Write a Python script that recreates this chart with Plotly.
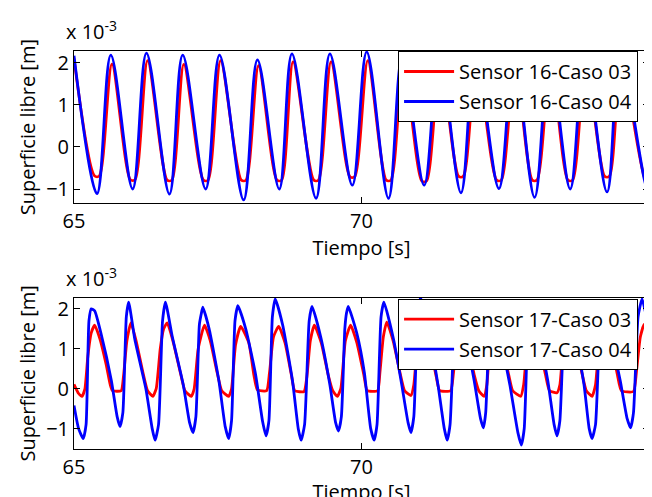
import plotly.graph_objects as go
from plotly.subplots import make_subplots

# ---------------- data (values in units of 1e-3 m) ----------------
# Top panel: Sensor 16
t16_c04 = [65.00, 65.40, 65.64, 66.02, 66.26, 66.66, 66.89, 67.29, 67.53, 67.95, 68.19, 68.57,
           68.79, 69.21, 69.45, 69.84, 70.09, 70.47, 70.71, 71.09, 71.35, 71.73, 71.98, 72.39,
           72.65, 73.01, 73.27, 73.63, 73.88, 74.27, 74.50, 74.97, 75.00]
v16_c04 = [2.17, -1.11, 2.18, -1.00, 2.23, -1.12, 2.18, -1.00, 2.18, -1.26, 2.07, -1.00,
           2.21, -1.22, 2.21, -0.91, 2.26, -1.22, 2.15, -0.91, 2.24, -1.09, 2.23, -0.99,
           2.17, -1.20, 2.13, -1.00, 2.17, -1.07, 2.21, -0.99, -0.98]

t16_c03 = [65.00, 65.36, 65.44, 65.66, 65.98, 66.06, 66.28, 66.62, 66.70, 66.91, 67.25, 67.33,
           67.55, 67.91, 67.99, 68.21, 68.53, 68.61, 68.81, 69.17, 69.25, 69.47, 69.80, 69.88,
           70.11, 70.43, 70.51, 70.73, 71.05, 71.13, 71.37, 71.69, 71.77, 72.00, 72.35, 72.43,
           72.67, 72.97, 73.05, 73.29, 73.59, 73.67, 73.90, 74.23, 74.31, 74.52, 74.94, 75.00]
v16_c03 = [2.10, -0.69, -0.69, 1.97, -0.78, -0.78, 2.05, -0.79, -0.79, 1.96, -0.79, -0.79,
           2.05, -0.79, -0.79, 1.93, -0.79, -0.79, 2.02, -0.79, -0.79, 2.02, -0.71, -0.71,
           2.05, -0.79, -0.79, 2.00, -0.81, -0.81, 2.02, -0.70, -0.70, 2.02, -0.79, -0.79,
           2.00, -0.79, -0.79, 2.00, -0.79, -0.79, 2.00, -0.70, -0.70, 2.02, -0.79, -0.79]

# Bottom panel: Sensor 17
t17_c04 = [65.00, 65.08, 65.16, 65.21, 65.26, 65.30, 65.36, 65.47, 65.65, 65.75, 65.80,
           65.85, 65.91, 65.95, 66.06, 66.25, 66.36, 66.41,
           66.47, 66.54, 66.59, 66.71, 66.90, 67.01, 67.07,
           67.12, 67.18, 67.21, 67.24, 67.35, 67.52, 67.63, 67.69,
           67.74, 67.80, 67.85, 67.99, 68.16, 68.28, 68.34,
           68.39, 68.45, 68.50, 68.63, 68.80, 68.90, 68.95,
           69.01, 69.09, 69.14, 69.29, 69.45, 69.55, 69.60,
           69.65, 69.71, 69.74, 69.77, 69.92, 70.05, 70.16, 70.22,
           70.27, 70.34, 70.39, 70.56, 70.70, 70.81, 70.86,
           70.91, 70.98, 71.03, 71.17, 71.33, 71.44, 71.49,
           71.54, 71.62, 71.67, 71.80, 71.96, 72.07, 72.12,
           72.16, 72.23, 72.27, 72.40, 72.58, 72.72, 72.78,
           72.83, 72.90, 72.95, 73.08, 73.24, 73.35, 73.40,
           73.45, 73.53, 73.58, 73.71, 73.87, 73.96, 74.01,
           74.07, 74.15, 74.20, 74.33, 74.50, 74.62, 74.68,
           74.73, 74.81, 74.88, 74.95, 75.00]
v17_c04 = [-0.42, -1.00, -1.25, -0.90, 1.70, 2.00, 1.95, 1.38, 0.20, -0.70, -0.95,
           -0.60, 1.80, 2.17, 1.22, 0.00, -1.00, -1.29,
           -0.90, 1.70, 2.17, 1.30, 0.10, -0.85, -1.10,
           -0.70, 1.60, 1.85, 2.04, 1.50, 0.20, -0.95, -1.25,
           -0.80, 1.70, 2.08, 1.48, 0.34, -0.82, -1.18,
           -0.80, 1.80, 2.25, 1.59, 0.20, -1.00, -1.29,
           -0.90, 1.70, 2.06, 1.30, 0.10, -0.85, -1.06,
           -0.70, 1.50, 1.90, 2.06, 1.38, 0.40, -1.00, -1.29,
           -0.90, 1.80, 2.17, 1.22, 0.10, -0.85, -1.10,
           -0.70, 1.90, 2.29, 1.40, 0.10, -1.00, -1.29,
           -0.90, 1.70, 2.10, 1.35, 0.20, -0.75, -0.98,
           -0.60, 1.80, 2.17, 1.40, 0.10, -1.10, -1.41,
           -1.00, 1.70, 2.10, 1.35, 0.20, -0.90, -1.18,
           -0.80, 1.80, 2.17, 1.40, 0.10, -1.00, -1.25,
           -0.90, 1.70, 2.10, 1.35, 0.20, -0.75, -0.98,
           -0.60, 1.80, 2.25, 1.85, 1.65]

t17_c03 = [65.00, 65.08, 65.14, 65.19, 65.24, 65.30, 65.36, 65.45, 65.56, 65.63, 65.67, 65.82,
           65.86, 65.92, 65.99, 66.08, 66.20, 66.28, 66.37, 66.43, 66.50, 66.56, 66.62, 66.72,
           66.85, 66.93, 67.04, 67.09, 67.16, 67.27, 67.37, 67.49, 67.57, 67.69, 67.74, 67.81,
           67.90, 68.04, 68.13, 68.19, 68.35, 68.40, 68.47, 68.56, 68.67, 68.78, 68.84, 69.00,
           69.05, 69.11, 69.18, 69.30, 69.42, 69.50, 69.58, 69.64, 69.72, 69.81, 69.92, 70.04,
           70.10, 70.28, 70.32, 70.38, 70.44, 70.55, 70.67, 70.75, 70.86, 70.91, 70.98, 71.07,
           71.18, 71.30, 71.36, 71.55, 71.60, 71.66, 71.72, 71.84, 71.96, 72.04, 72.13, 72.18,
           72.24, 72.31, 72.43, 72.56, 72.63, 72.77, 72.82, 72.89, 72.97, 73.08, 73.20, 73.27,
           73.40, 73.45, 73.52, 73.61, 73.72, 73.84, 73.91, 74.01, 74.07, 74.14, 74.23, 74.34,
           74.45, 74.52, 74.73, 74.78, 74.85, 74.92, 75.00]
v17_c03 = [0.11, -0.12, -0.19, 0.00, 0.80, 1.40, 1.59, 1.25, 0.60, 0.10, -0.05, -0.05,
           0.30, 1.20, 1.65, 1.20, 0.40, -0.05, -0.19, 0.00, 1.00, 1.50, 1.65, 1.20,
           0.40, -0.05, -0.19, 0.00, 1.00, 1.59, 1.20, 0.40, -0.05, -0.19, 0.00, 1.10,
           1.56, 1.15, 0.33, -0.03, -0.05, 0.40, 1.30, 1.56, 1.15, 0.35, -0.05, -0.07,
           0.30, 1.20, 1.59, 1.15, 0.35, -0.05, -0.19, 0.00, 1.20, 1.59, 1.15, 0.35,
           -0.05, -0.05, 0.40, 1.30, 1.67, 1.20, 0.40, -0.05, -0.17, 0.10, 1.20, 1.60,
           1.15, 0.30, -0.05, -0.05, 0.40, 1.20, 1.60, 1.15, 0.35, -0.05, -0.19, 0.10,
           1.20, 1.60, 1.15, 0.35, -0.05, -0.19, 0.10, 1.20, 1.60, 1.15, 0.35, -0.05,
           -0.10, 0.10, 1.20, 1.60, 1.15, 0.35, -0.05, -0.19, 0.10, 1.20, 1.60, 1.15,
           0.35, -0.05, -0.07, 0.40, 1.30, 1.62, 1.50]

names_top = ["Sensor 16-Caso 03", "Sensor 16-Caso 04"]
names_bot = ["Sensor 17-Caso 03", "Sensor 17-Caso 04"]
x_ticks = [65, 70, 75]
y_ticks = [-1, 0, 1, 2]
x_title = "Tiempo [s]"
y_title = "Superficie libre [m]"
scale_label = "x 10<sup>-3</sup>"

# ---------------- figure ----------------
FONT = "Open Sans"
RED = "rgb(255,0,0)"
BLUE = "rgb(0,0,255)"
LW = 2.8

fig = make_subplots(rows=2, cols=1, vertical_spacing=0.2370)
fig.add_trace(go.Scatter(x=t16_c03, y=v16_c03, mode="lines", name=names_top[0],
                         line=dict(color=RED, width=LW, shape="spline", smoothing=0.8),
                         legend="legend", legendgroup="a"), row=1, col=1)
fig.add_trace(go.Scatter(x=t16_c04, y=v16_c04, mode="lines", name=names_top[1],
                         line=dict(color=BLUE, width=LW, shape="spline", smoothing=1.0),
                         legend="legend", legendgroup="b"), row=1, col=1)
fig.add_trace(go.Scatter(x=t17_c03, y=v17_c03, mode="lines", name=names_bot[0],
                         line=dict(color=RED, width=LW, shape="spline", smoothing=0.5),
                         legend="legend2", legendgroup="c"), row=2, col=1)
fig.add_trace(go.Scatter(x=t17_c04, y=v17_c04, mode="lines", name=names_bot[1],
                         line=dict(color=BLUE, width=LW, shape="spline", smoothing=0.5),
                         legend="legend2", legendgroup="d"), row=2, col=1)

axis_common = dict(showline=True, linecolor="black", linewidth=1, mirror="ticks",
                   ticks="inside", ticklen=6, tickcolor="black", showgrid=False,
                   zeroline=False, tickfont=dict(family=FONT, size=20, color="black"))

fig.update_xaxes(**axis_common, range=[65, 75], tickvals=x_ticks,
                 title=dict(text=x_title, font=dict(family=FONT, size=20, color="black"), standoff=1))
fig.update_yaxes(**axis_common, tickvals=y_ticks,
                 title=dict(text=y_title, font=dict(family=FONT, size=20, color="black"), standoff=5))
fig.update_layout(
    yaxis=dict(domain=[0.6173, 1.0], range=[-1.34, 2.28]),
    yaxis2=dict(domain=[0.0, 0.3802], range=[-1.51, 2.28]),
)

legend_common = dict(bgcolor="white", bordercolor="black", borderwidth=1,
                     font=dict(family=FONT, size=20, color="black"),
                     xanchor="right", yanchor="top", tracegroupgap=1,
                     traceorder="grouped", itemwidth=50)
fig.update_layout(
    legend=dict(**legend_common, x=0.981, y=1.0),
    legend2=dict(**legend_common, x=0.981, y=0.378),
)

for yp in (1.0, 0.3802):
    fig.add_annotation(text=scale_label, xref="paper", yref="paper", x=0.0, y=yp,
                       xanchor="left", yanchor="bottom", yshift=4, xshift=-10, showarrow=False,
                       font=dict(family=FONT, size=20, color="black"))

fig.update_layout(
    width=652, height=497,
    margin=dict(l=66, r=10, t=43, b=49),
    paper_bgcolor="white", plot_bgcolor="white",
    showlegend=True,
)

fig.write_html("out.html")
